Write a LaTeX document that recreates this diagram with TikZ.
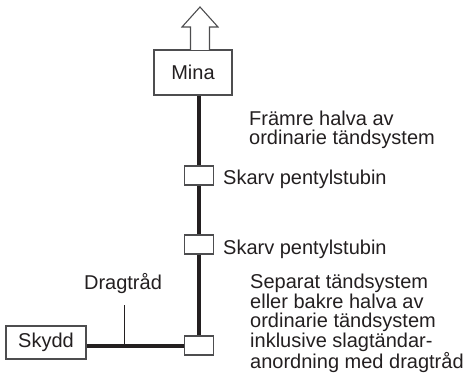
\documentclass[tikz,border=0pt]{standalone}
\usepackage{fontspec}
\setmainfont{Liberation Sans}
\usetikzlibrary{backgrounds}
\definecolor{ink}{HTML}{231F20}
\definecolor{boxgray}{HTML}{4D4D4F}
\begin{document}
\begin{tikzpicture}[x=1pt,y=-1pt,
  font=\fontsize{20}{19.5}\selectfont,
  every node/.style={text=ink},
  box/.style={draw=boxgray, line width=1.1pt, fill=white, inner sep=0pt},
  joint/.style={box, minimum width=29pt, minimum height=19pt},
  wire/.style={draw=ink, line width=4pt},
  pointer/.style={draw=ink, line width=1pt},
  txt/.style={align=left, inner sep=0pt}]
\useasboundingbox (0,0) rectangle (466,377);
% nodes
\node[box, minimum width=78pt, minimum height=45pt] (mina) at (193,72.5) {Mina};
\node[joint] (j1) at (199,175.5) {};
\node[joint] (j2) at (199,244.5) {};
\node[joint] (j3) at (199,345.5) {};
\node[box, minimum width=80pt, minimum height=33pt] (skydd) at (46,342.5) {Skydd};
\node[txt, anchor=base] (dt) at (123,289) {Dragtråd};
% multi-line nodes: base anchor is the baseline of the last line
\node[txt, anchor=base west] (t1) at (249,145) {Främre halva av\\ordinarie tändsystem};
\node[txt, anchor=base west] (t2) at (223,185) {Skarv pentylstubin};
\node[txt, anchor=base west] (t3) at (223,254) {Skarv pentylstubin};
\node[txt, anchor=base west] (t4) at (250,368.5) {Separat tändsystem\\eller bakre halva av\\ordinarie tändsystem\\inklusive slagtändar-\\anordning med dragtråd};
% arrow out of the mine
\coordinate (tip) at (200,7);
\draw[draw=boxgray, line width=1.1pt, fill=white]
  (190.5,50) -- (190.5,27) -- (182,27) -- (tip) -- (218,27) -- (209.5,27) -- (209.5,50);
% connectors
\begin{scope}[on background layer]
\draw[wire] (mina.south -| j3.north) -- (j3.north);
\draw[wire] (skydd.east |- j3.west) -- (j3.west);
\end{scope}
\coordinate (dtfoot) at (124,345.5);
\coordinate (dttop) at (124,305);
\draw[pointer] (dttop) -- (dtfoot);
\end{tikzpicture}
\end{document}
